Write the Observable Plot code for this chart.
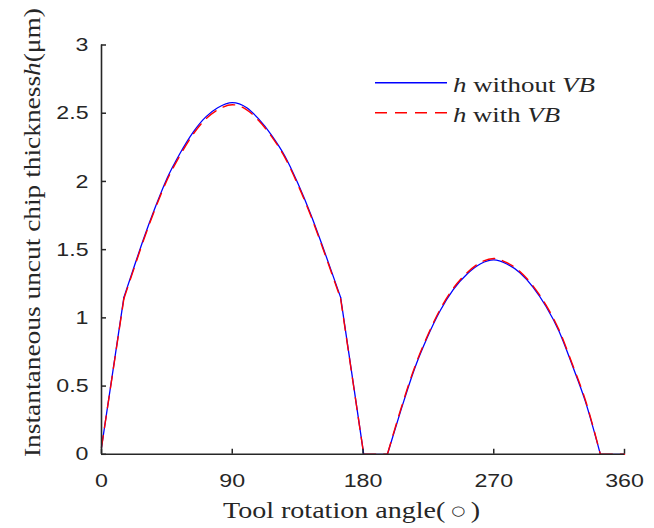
<!DOCTYPE html>
<html><head><meta charset="utf-8">
<script src="https://cdn.jsdelivr.net/npm/d3@7"></script>
<script src="https://cdn.jsdelivr.net/npm/@observablehq/plot@0.6"></script>
<style>html,body{margin:0;padding:0;background:#fff;} #chart{width:654px;height:528px;}</style>
</head><body><div id="chart"></div>
<script>
// Tool rotation angle (deg)
const angle = [0, 15.4, 22, 29, 37, 45, 54, 63, 72, 80, 90, 100, 108, 117, 126, 135, 144, 152, 158, 164.6, 180.5, 196.8, 206, 215, 224, 233, 242, 252, 261, 270, 279, 288, 297, 306, 315, 324, 333, 343.4, 360];
// h without VB (um)
const hWithout = [0.05, 1.15, 1.36, 1.58, 1.81, 2.02, 2.205, 2.36, 2.475, 2.54, 2.578, 2.54, 2.46, 2.34, 2.19, 1.99, 1.76, 1.53, 1.35, 1.15, 0, 0, 0.32, 0.613, 0.85, 1.05, 1.205, 1.325, 1.397, 1.425, 1.395, 1.33, 1.225, 1.083, 0.9, 0.654, 0.39, 0, 0];
// h with VB (um)
const hWith = [0.05, 1.14, 1.35, 1.57, 1.80, 2.007, 2.19, 2.345, 2.46, 2.525, 2.562, 2.525, 2.448, 2.33, 2.18, 1.98, 1.75, 1.52, 1.34, 1.14, 0, 0, 0.33, 0.622, 0.86, 1.06, 1.215, 1.335, 1.407, 1.435, 1.405, 1.34, 1.235, 1.093, 0.91, 0.664, 0.4, 0, 0];
// angles where the curve has a corner (piece boundaries)
const kinkAngles = [15.4, 164.6, 180.5, 196.8, 343.4];
const xTicks = [0, 90, 180, 270, 360];
const yTicks = [0, 0.5, 1, 1.5, 2, 2.5, 3];

function pieces(values) {
  const rows = [];
  let piece = 0;
  angle.forEach((a, i) => {
    rows.push({angle: a, h: values[i], piece});
    if (kinkAngles.includes(a)) {
      piece++;
      rows.push({angle: a, h: values[i], piece});
    }
  });
  return rows;
}
const rowsWithout = pieces(hWithout);
const rowsWith = pieces(hWith);

const axisColor = "#262626";
const serif = "'Liberation Serif','Times New Roman',Times,serif";

const chart = Plot.plot({
  width: 654,
  height: 528,
  marginLeft: 101,
  marginRight: 30,
  marginTop: 44.5,
  marginBottom: 74.2,
  style: {fontFamily: "'Liberation Sans',Arial,Helvetica,sans-serif", fontSize: "19px", color: axisColor, background: "#fff", overflow: "visible"},
  x: {domain: [0, 360]},
  y: {domain: [0, 3]},
  marks: [
    Plot.line(rowsWithout, {x: "angle", y: "h", z: "piece", stroke: "#0000ff", strokeWidth: 1.3, curve: "monotone-x"}),
    Plot.line(rowsWith, {x: "angle", y: "h", z: "piece", stroke: "#ff0000", strokeWidth: 1.4, strokeDasharray: "12,8", curve: "monotone-x"}),
    Plot.ruleX([0], {stroke: axisColor, strokeWidth: 1.6}),
    Plot.ruleY([0], {stroke: axisColor, strokeWidth: 1.6}),
    Plot.axisX(xTicks, {anchor: "bottom", tickSize: -5, tickPadding: 24, strokeWidth: 1.5, label: null, tickFormat: d => String(d)}),
    Plot.axisY(yTicks, {anchor: "left", tickSize: -5, tickPadding: 18, strokeWidth: 1.5, label: null, tickFormat: d => String(d)})
  ]
});
document.getElementById("chart").append(chart);

// widen tick labels to match reference glyph proportions
chart.querySelectorAll('g[aria-label$="tick label"] text').forEach(t => {
  const len = t.getComputedTextLength();
  t.setAttribute("textLength", (len * 1.22).toFixed(1));
  t.setAttribute("lengthAdjust", "spacingAndGlyphs");
});

const svg = d3.select(chart);

// y axis label
const yl = svg.append("text")
  .attr("transform", "translate(40,232.5) rotate(-90)")
  .attr("text-anchor", "middle")
  .attr("fill", axisColor)
  .style("font-family", serif)
  .style("font-size", "22.5px");
yl.append("tspan").text("Instantaneous uncut chip thickness");
yl.append("tspan").attr("font-style", "italic").text("h");
yl.append("tspan").text("(μm)");
yl.attr("textLength", 449).attr("lengthAdjust", "spacingAndGlyphs");

// x axis label
const xl = svg.append("text")
  .attr("x", 351.5).attr("y", 517.5)
  .attr("text-anchor", "middle")
  .attr("fill", axisColor)
  .style("font-family", serif)
  .style("font-size", "22.5px");
xl.append("tspan").text("Tool rotation angle(\u2009");
xl.append("tspan").attr("dy", -3).style("font-family", "'DejaVu Sans',sans-serif").style("font-size", "13px").text("○");
xl.append("tspan").attr("dy", 3).text("\u2009)");
xl.attr("textLength", 257).attr("lengthAdjust", "spacingAndGlyphs");

// legend
const legendItems = [
  {name: "without", color: "#0000ff", dash: null, y: 82.7, len: 142},
  {name: "with", color: "#ff0000", dash: "12,8", y: 112.7, len: 107}
];
const lg = svg.append("g");
legendItems.forEach(d => {
  const ln = lg.append("line").attr("x1", 375).attr("x2", 447).attr("y1", d.y).attr("y2", d.y)
    .attr("stroke", d.color).attr("stroke-width", 1.4);
  if (d.dash) ln.attr("stroke-dasharray", d.dash);
  const t = lg.append("text").attr("x", 453).attr("y", d.y + 8.8)
    .attr("text-anchor", "start")
    .attr("fill", axisColor).style("font-family", serif).style("font-size", "22px");
  t.append("tspan").attr("font-style", "italic").text("h");
  t.append("tspan").text(" " + d.name + " ");
  t.append("tspan").attr("font-style", "italic").text("VB");
  t.attr("textLength", d.len).attr("lengthAdjust", "spacingAndGlyphs");
});
</script>
</body></html>
